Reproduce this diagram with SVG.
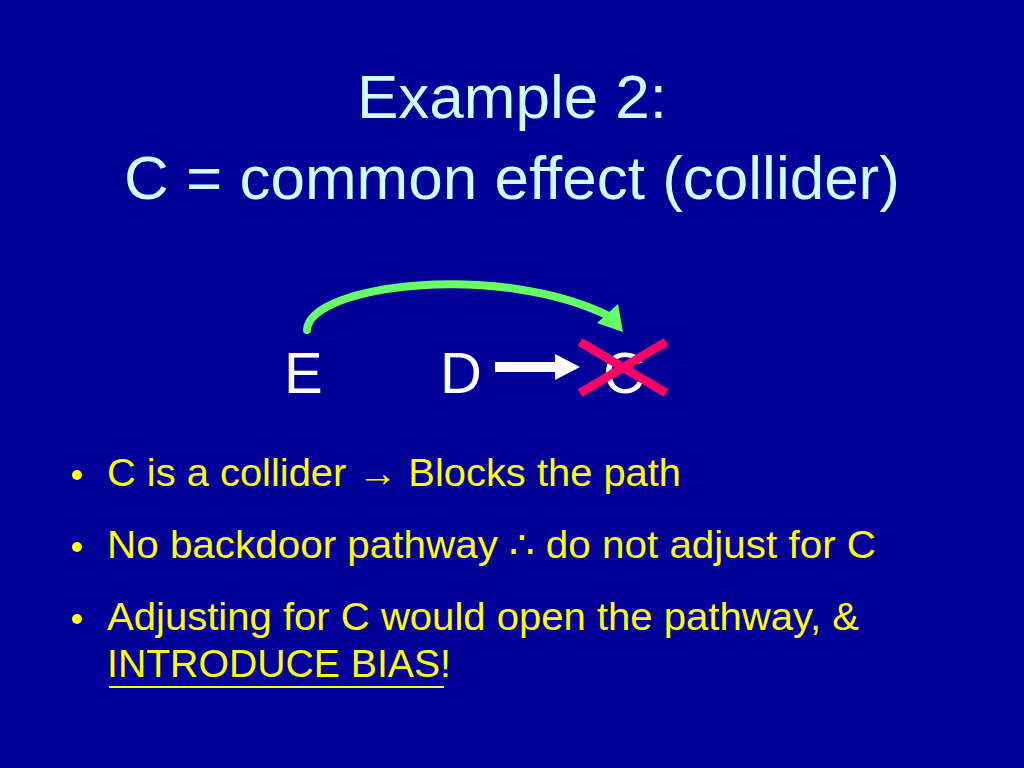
<svg xmlns="http://www.w3.org/2000/svg" width="1024" height="768" viewBox="0 0 1024 768">
<defs>
<style>
.title{font-family:"Liberation Sans",Arial,sans-serif;font-size:62px;fill:#CCFFFF;text-anchor:middle}
.node{font-family:"Liberation Sans",Arial,sans-serif;font-size:58px;fill:#FFFFFF}
.bul{font-family:"Liberation Sans",Arial,sans-serif;font-size:38px;fill:#FFFF00}
.dot{fill:#FFFF00}
</style>
</defs>
<rect width="1024" height="768" fill="#000099"/>
<g id="title">
<text class="title" x="512" y="118">Example 2:</text>
<text class="title" x="512" y="199">C = common effect (collider)</text>
</g>
<g id="node-E"><text class="node" x="284" y="393">E</text></g>
<g id="node-D"><text class="node" x="440" y="393">D</text></g>
<g id="node-C"><text class="node" x="603" y="393">C</text></g>
<g id="connectors">
<path d="M307,330 C310,284 500,262 609,316" fill="none" stroke="#66FF66" stroke-width="8" stroke-linecap="round"/>
<polygon points="623,332 597,323 618,304" fill="#66FF66"/>
<line x1="495" y1="367" x2="557" y2="367" stroke="#FFFFFF" stroke-width="10"/>
<polygon points="555,354 580,367 555,380" fill="#FFFFFF"/>
</g>
<g id="cross">
<line x1="580" y1="342" x2="666" y2="393" stroke="#FF0066" stroke-width="9"/>
<line x1="580" y1="393" x2="666" y2="342" stroke="#FF0066" stroke-width="9"/>
</g>
<g id="bullets">
<circle class="dot" cx="77" cy="475" r="5"/>
<text class="bul" x="107" y="486" textLength="574" lengthAdjust="spacingAndGlyphs">C is a collider → Blocks the path</text>
<circle class="dot" cx="77" cy="547" r="5"/>
<text class="bul" x="107" y="558" textLength="769" lengthAdjust="spacingAndGlyphs">No backdoor pathway  ∴ do not adjust for C</text>
<circle class="dot" cx="77" cy="619" r="5"/>
<text class="bul" x="107" y="630" textLength="752" lengthAdjust="spacingAndGlyphs">Adjusting for C would open the pathway, &amp;</text>
<text class="bul" x="107" y="677" textLength="344" lengthAdjust="spacingAndGlyphs">INTRODUCE BIAS!</text>
<line x1="109" y1="687" x2="444" y2="687" stroke="#FFFF00" stroke-width="2"/>
</g>
</svg>
